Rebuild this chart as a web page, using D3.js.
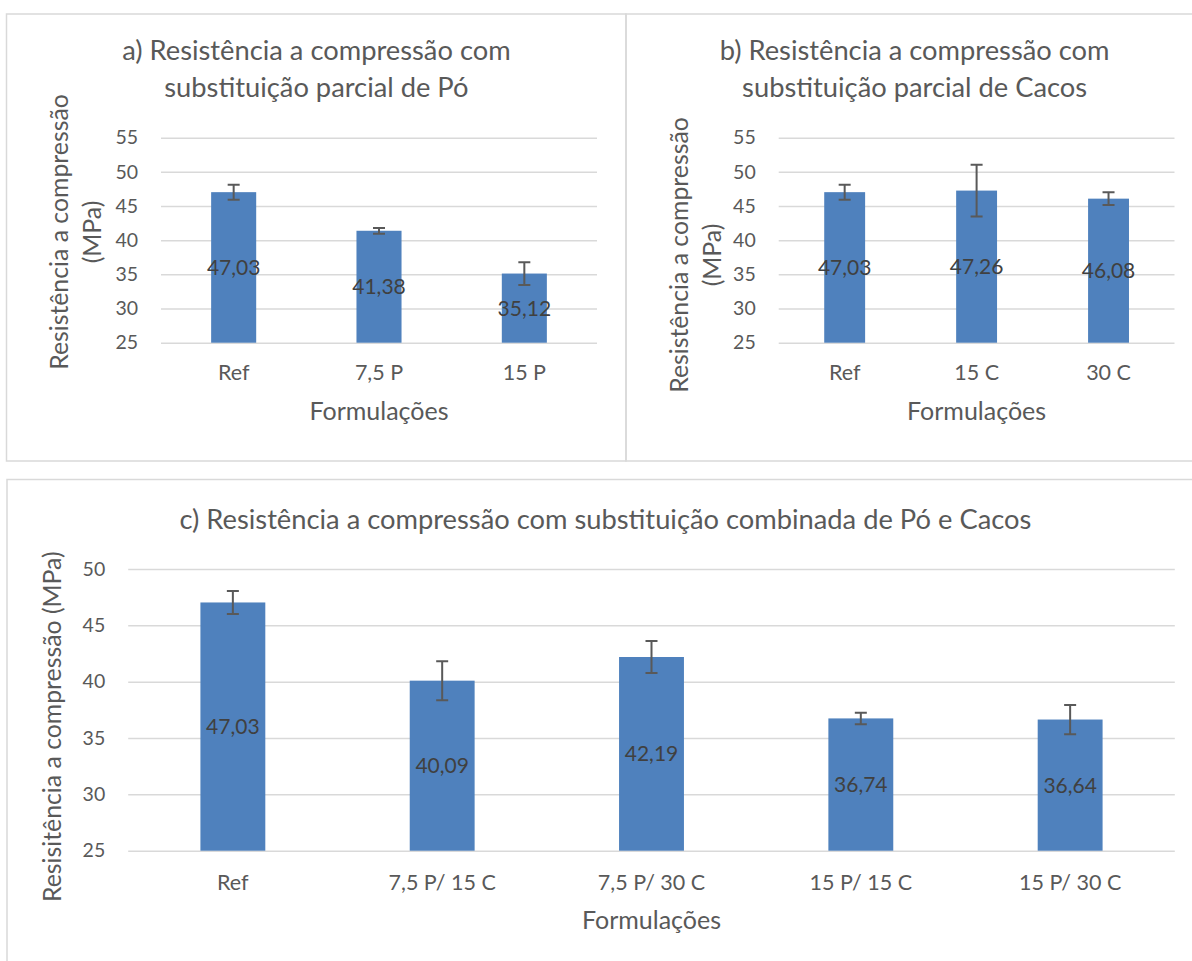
<!DOCTYPE html>
<html>
<head>
<meta charset="utf-8">
<script src="https://cdn.jsdelivr.net/npm/d3@7"></script>
<style>
body { margin: 0; background: #fff; }
svg { display: block; }
</style>
</head>
<body>
<div id="chart-area"></div>
<script>
// a) partial substitution of powder
var catsA = ["Ref", "7,5 P", "15 P"]
var valsA = [47.03, 41.38, 35.12]
var errA = [1.1, 0.42, 1.66]

// b) partial substitution of shards
var catsB = ["Ref", "15 C", "30 C"]
var valsB = [47.03, 47.26, 46.08]
var errB = [1.1, 3.78, 0.92]

// c) combined substitution
var catsC = ["Ref", "7,5 P/ 15 C", "7,5 P/ 30 C", "15 P/ 15 C", "15 P/ 30 C"]
var valsC = [47.03, 40.09, 42.19, 36.74, 36.64]
var errC = [1.02, 1.73, 1.42, 0.51, 1.3]

var ticksAB = [25, 30, 35, 40, 45, 50, 55]
var ticksC = [25, 30, 35, 40, 45, 50]

var font = "Lato, 'Open Sans', sans-serif"
var textColor = "#595959"
var gridColor = "#d9d9d9"
var barColor = "#4f81bd"

var ptFormat = d3.formatLocale({ decimal: ",", thousands: ".", grouping: [3], currency: ["", ""] }).format(".2f")

var svg = d3.select("#chart-area").append("svg")
    .attr("width", 1192)
    .attr("height", 961)

function drawPanel(p) {
    var g = svg.append("g")

    // chart border
    g.append("rect")
        .attr("x", p.box[0]).attr("y", p.box[1])
        .attr("width", p.box[2]).attr("height", p.box[3])
        .style("fill", "none")
        .style("stroke", gridColor)
        .style("stroke-width", 1.5)

    var x = d3.scaleBand()
        .domain(p.cats)
        .range([p.left, p.right])
        .paddingInner(0.69)
        .paddingOuter(0.345)

    var y = d3.scaleLinear()
        .domain([p.ticks[0], p.ticks[p.ticks.length - 1]])
        .range([p.bottom, p.top])

    // Y axis + gridlines
    var yAxis = g.append("g")
        .attr("transform", "translate(" + p.left + ",0)")
        .call(d3.axisLeft(y).tickValues(p.ticks).tickSize(-(p.right - p.left)).tickPadding(23))
    yAxis.select(".domain").remove()
    yAxis.selectAll("line").style("stroke", gridColor).style("stroke-width", 1.5)
    yAxis.selectAll("text")
        .style("font-family", font)
        .style("font-size", "19.5px")
        .style("fill", textColor)

    // X axis labels
    var xAxis = g.append("g")
        .attr("transform", "translate(0," + p.bottom + ")")
        .call(d3.axisBottom(x).tickSize(0))
    xAxis.select(".domain").remove()
    xAxis.selectAll("text")
        .attr("y", p.catY)
        .attr("dy", 0)
        .style("font-family", font)
        .style("font-size", "21.5px")
        .style("fill", textColor)

    // bars
    g.selectAll(".bar").data(p.vals).enter()
        .append("rect")
        .attr("class", "bar")
        .attr("x", function(d, i) { return x(p.cats[i]) })
        .attr("y", function(d) { return y(d) })
        .attr("width", x.bandwidth())
        .attr("height", function(d) { return y(p.ticks[0]) - y(d) })
        .attr("fill", barColor)

    // data labels, centred in the bar
    g.selectAll(".val").data(p.vals).enter()
        .append("text")
        .attr("x", function(d, i) { return x(p.cats[i]) + x.bandwidth() / 2 })
        .attr("y", function(d) { return (y(d) + y(p.ticks[0])) / 2 })
        .attr("dy", "0.36em")
        .style("text-anchor", "middle")
        .style("font-family", font)
        .style("font-size", "21px")
        .style("fill", "#404040")
        .text(function(d) { return ptFormat(d) })

    // error bars
    g.selectAll(".err").data(p.vals).enter()
        .append("path")
        .attr("d", function(d, i) {
            var cx = x(p.cats[i]) + x.bandwidth() / 2
            var y1 = y(d + p.errs[i]), y2 = y(d - p.errs[i])
            return "M" + (cx - 6) + "," + y1 + "H" + (cx + 6) +
                "M" + cx + "," + y1 + "V" + y2 +
                "M" + (cx - 6) + "," + y2 + "H" + (cx + 6)
        })
        .style("fill", "none")
        .style("stroke", "#595959")
        .style("stroke-width", 2)

    // title
    p.title.forEach(function(line, i) {
        g.append("text")
            .attr("x", p.titleX)
            .attr("y", p.titleY[i])
            .style("text-anchor", "middle")
            .style("font-family", font)
            .style("font-size", "27.3px")
            .style("fill", textColor)
            .text(line)
    })

    // y axis title
    p.yTitle.forEach(function(line, i) {
        g.append("text")
            .attr("transform", "translate(" + p.yTitleX[i] + "," + p.yTitleY + ") rotate(-90)")
            .style("text-anchor", "middle")
            .style("font-family", font)
            .style("font-size", "24.8px")
            .style("fill", textColor)
            .text(line)
    })

    // x axis title
    g.append("text")
        .attr("x", (p.left + p.right) / 2)
        .attr("y", p.bottom + p.xTitleOff)
        .style("text-anchor", "middle")
        .style("font-family", font)
        .style("font-size", "25px")
        .style("fill", textColor)
        .text("Formulações")
}

drawPanel({
    box: [6.5, 14, 619.5, 447],
    cats: catsA, vals: valsA, errs: errA, ticks: ticksAB,
    left: 161, right: 597, top: 137.7, bottom: 342.7,
    catY: 37.5, xTitleOff: 77.5,
    title: ["a) Resistência a compressão com", "substituição parcial de Pó"],
    titleX: 316.4, titleY: [60, 97],
    yTitle: ["Resistência a compressão", "(MPa)"],
    yTitleX: [68, 101], yTitleY: 232
})

drawPanel({
    box: [626, 14, 600, 447],
    cats: catsB, vals: valsB, errs: errB, ticks: ticksAB,
    left: 778.7, right: 1174.5, top: 137.7, bottom: 342.7,
    catY: 37.5, xTitleOff: 77.5,
    title: ["b) Resistência a compressão com", "substituição parcial de Cacos"],
    titleX: 914.6, titleY: [60, 97],
    yTitle: ["Resistência a compressão", "(MPa)"],
    yTitleX: [688, 721], yTitleY: 255
})

drawPanel({
    box: [7, 479.5, 1200, 520],
    cats: catsC, vals: valsC, errs: errC, ticks: ticksC,
    left: 128.2, right: 1174.8, top: 569, bottom: 850.7,
    catY: 39.3, xTitleOff: 78.3,
    title: ["c) Resistência a compressão com substituição combinada de Pó e Cacos"],
    titleX: 605.4, titleY: [529],
    yTitle: ["Resisitência a compressão (MPa)"],
    yTitleX: [61], yTitleY: 726.7
})
</script>
</body>
</html>
